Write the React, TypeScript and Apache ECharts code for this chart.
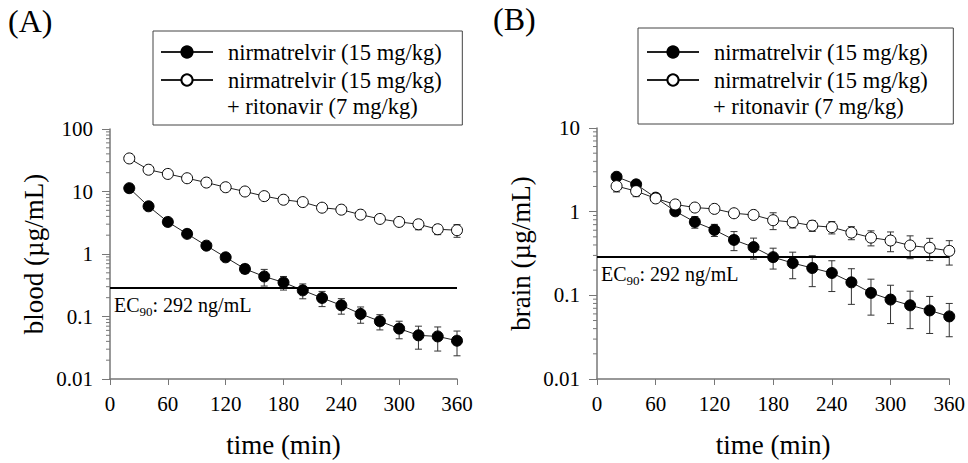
import React, { useEffect, useRef } from "react";
import * as echarts from "echarts";

const FONT = "Liberation Serif, Times New Roman, serif";

const TIME = [20, 40, 60, 80, 100, 120, 140, 160, 180, 200, 220, 240, 260, 280, 300, 320, 340, 360];

// Panel A: blood (µg/mL)
const A_N_MEAN = [11.3, 5.8, 3.26, 2.1, 1.36, 0.885, 0.578, 0.437, 0.351, 0.262, 0.198, 0.151, 0.11, 0.084, 0.064, 0.05, 0.048, 0.041];
const A_N_SD = [1.0, 0.5, 0.3, 0.2, 0.15, 0.12, 0.09, 0.13, 0.086, 0.07, 0.054, 0.042, 0.032, 0.023, 0.02, 0.02, 0.02, 0.0175];
const A_NR_MEAN = [33.8, 22.3, 19.1, 16.3, 13.9, 11.7, 10.0, 8.43, 7.38, 6.77, 5.51, 5.12, 4.26, 3.64, 3.26, 2.99, 2.49, 2.4];
const A_NR_SD = [3, 2, 1.5, 1.3, 1.1, 1.0, 0.8, 0.7, 0.6, 0.6, 0.5, 0.5, 0.45, 0.4, 0.45, 0.55, 0.45, 0.55];

// Panel B: brain (µg/mL)
const B_N_MEAN = [2.61, 2.12, 1.47, 1.01, 0.754, 0.605, 0.46, 0.377, 0.286, 0.243, 0.212, 0.185, 0.143, 0.107, 0.089, 0.076, 0.066, 0.056];
const B_N_SD = [0.15, 0.12, 0.1, 0.1, 0.12, 0.1, 0.118, 0.106, 0.08, 0.085, 0.085, 0.074, 0.065, 0.049, 0.043, 0.036, 0.031, 0.024];
const B_NR_MEAN = [2.02, 1.76, 1.44, 1.22, 1.12, 1.08, 0.957, 0.914, 0.79, 0.748, 0.681, 0.652, 0.562, 0.49, 0.452, 0.394, 0.37, 0.34];
const B_NR_SD = [0.3, 0.25, 0.1, 0.08, 0.08, 0.08, 0.08, 0.1, 0.18, 0.11, 0.1, 0.11, 0.1, 0.1, 0.12, 0.12, 0.11, 0.11];

const EC90 = 0.292; // µg/mL (292 ng/mL)
const X_TICKS = { min: 0, max: 360, interval: 60 };
const Y_RANGE_A = { min: 0.01, max: 100 };
const Y_RANGE_B = { min: 0.01, max: 10 };
const DECADES_A = [0.01, 0.1, 1, 10];
const DECADES_B = [0.01, 0.1, 1];
const MINOR_MULT = [2, 3, 4, 5, 6, 7, 8, 9];

const NAME_N = "nirmatrelvir (15 mg/kg)";
const NAME_NR = "nirmatrelvir (15 mg/kg) ";
const NAME_NR_LINE2 = "+ ritonavir (7 mg/kg)";

const AXIS_COLOR = "#777";
const LEGEND_FONT = 22.5;

function minorValues(decades: number[]) {
  const out: number[][] = [];
  decades.forEach((d) => MINOR_MULT.forEach((m) => out.push([0, +(d * m).toPrecision(6)])));
  return out;
}

function errData(mean: number[], sd: number[]) {
  return TIME.map((t, i) => [t, mean[i], sd[i]]);
}

function lineData(mean: number[]) {
  return TIME.map((t, i) => [t, mean[i]]);
}

const errorRender = (params: any, api: any) => {
  const x = api.value(0);
  const m = api.value(1);
  const s = api.value(2);
  const top = api.coord([x, m + s]);
  const bot = api.coord([x, Math.max(m - s, 1e-5)]);
  const hw = 3.5;
  const st = { stroke: "#333", lineWidth: 1 };
  return {
    type: "group",
    children: [
      { type: "line", shape: { x1: top[0], y1: top[1], x2: bot[0], y2: bot[1] }, style: st },
      { type: "line", shape: { x1: top[0] - hw, y1: top[1], x2: top[0] + hw, y2: top[1] }, style: st },
      { type: "line", shape: { x1: bot[0] - hw, y1: bot[1], x2: bot[0] + hw, y2: bot[1] }, style: st },
    ],
  };
};

const minorRender = (params: any, api: any) => {
  const p = api.coord([api.value(0), api.value(1)]);
  return {
    type: "line",
    shape: { x1: p[0] - 4, y1: p[1], x2: p[0], y2: p[1] },
    style: { stroke: AXIS_COLOR, lineWidth: 1 },
  };
};

function xAxis(gridIndex: number) {
  return {
    type: "value",
    gridIndex,
    ...X_TICKS,
    name: "time (min)",
    nameLocation: "middle",
    nameGap: 52,
    nameTextStyle: { fontSize: 27, fontFamily: FONT, color: "#000" },
    axisLine: { show: true, onZero: false, lineStyle: { color: AXIS_COLOR, width: 1.5 } },
    axisTick: { show: true, length: 6, lineStyle: { color: AXIS_COLOR, width: 1 } },
    axisLabel: { fontSize: 21, fontFamily: FONT, color: "#000", margin: 14 },
    splitLine: { show: false },
  };
}

function yAxis(gridIndex: number, name: string, range: { min: number; max: number }) {
  return {
    type: "log",
    logBase: 10,
    gridIndex,
    ...range,
    name,
    nameLocation: "middle",
    nameGap: 63,
    nameTextStyle: { fontSize: 27, fontFamily: FONT, color: "#000" },
    axisLine: { show: true, onZero: false, lineStyle: { color: AXIS_COLOR, width: 1.5 } },
    axisTick: { show: true, length: 8, lineStyle: { color: AXIS_COLOR, width: 1 } },
    axisLabel: {
      fontSize: 21,
      fontFamily: FONT,
      color: "#000",
      margin: 17,
      formatter: (v: number) => String(+(+v).toPrecision(3)),
    },
    splitLine: { show: false },
  };
}

function panelSeries(idx: number, nMean: number[], nSd: number[], nrMean: number[], nrSd: number[], decades: number[]) {
  return [
    {
      type: "custom",
      xAxisIndex: idx,
      yAxisIndex: idx,
      renderItem: minorRender,
      clip: false,
      silent: true,
      encode: { x: 0, y: 1 },
      data: minorValues(decades),
    },
    {
      type: "custom",
      xAxisIndex: idx,
      yAxisIndex: idx,
      renderItem: errorRender,
      clip: false,
      silent: true,
      encode: { x: 0, y: 1 },
      data: errData(nMean, nSd),
    },
    {
      type: "custom",
      xAxisIndex: idx,
      yAxisIndex: idx,
      renderItem: errorRender,
      clip: false,
      silent: true,
      encode: { x: 0, y: 1 },
      data: errData(nrMean, nrSd),
    },
    {
      type: "line",
      name: NAME_N,
      xAxisIndex: idx,
      yAxisIndex: idx,
      data: lineData(nMean),
      symbol: "circle",
      symbolSize: 11,
      clip: false,
      lineStyle: { color: "#222", width: 1 },
      itemStyle: { color: "#000", borderColor: "#000", borderWidth: 1 },
      markLine: {
        silent: true,
        symbol: "none",
        lineStyle: { color: "#000", width: 2, type: "solid" },
        label: {
          show: true,
          position: "insideStartBottom",
          distance: 4,
          formatter: "{a|EC}{b|90}{a|: 292 ng/mL}",
          rich: {
            a: { fontSize: 20, fontFamily: FONT, color: "#000" },
            b: { fontSize: 13, fontFamily: FONT, color: "#000", padding: [14, 0, 0, 0] },
          },
        },
        data: [[{ coord: [X_TICKS.min, EC90] }, { coord: [X_TICKS.max, EC90] }]],
      },
    },
    {
      type: "line",
      name: NAME_NR,
      xAxisIndex: idx,
      yAxisIndex: idx,
      data: lineData(nrMean),
      symbol: "circle",
      symbolSize: 11,
      clip: false,
      lineStyle: { color: "#222", width: 1 },
      itemStyle: { color: "#fff", borderColor: "#000", borderWidth: 1 },
    },
  ];
}

function legend(left: number, top: number, padding: number[]) {
  return {
    left,
    top,
    orient: "vertical",
    itemWidth: 52,
    itemHeight: 14,
    itemGap: 1,
    padding,
    borderColor: "#444",
    borderWidth: 1,
    selectedMode: false,
    textStyle: { fontSize: LEGEND_FONT, fontFamily: FONT, color: "#000", lineHeight: 27, padding: [0, 0, 0, 10] },
    data: [NAME_N, NAME_NR],
  };
}

export default function App() {
  const ref = useRef<HTMLDivElement>(null);
  useEffect(() => {
    if (!ref.current) return;
    const chart = echarts.init(ref.current, null, { renderer: "svg" });
    chart.setOption({
      animation: false,
      backgroundColor: "#fff",
      grid: [
        { left: 110, top: 129, width: 347, height: 250 },
        { left: 597, top: 128, width: 354, height: 252 },
      ],
      xAxis: [xAxis(0), xAxis(1)],
      yAxis: [yAxis(0, "blood (µg/mL)", Y_RANGE_A), yAxis(1, "brain (µg/mL)", Y_RANGE_B)],
      legend: [legend(153, 31, [7.5, 15, 31.5, 7]), legend(638, 28, [10.5, 20, 30.5, 8])],
      graphic: [
        { type: "text", x: 8, y: 5, style: { text: "(A)", fontSize: 32, fontFamily: FONT, fill: "#000" } },
        { type: "text", x: 493, y: 3, style: { text: "(B)", fontSize: 32, fontFamily: FONT, fill: "#000" } },
        {
          type: "text",
          x: 227,
          y: 106,
          style: { text: NAME_NR_LINE2, fontSize: LEGEND_FONT, fontFamily: FONT, fill: "#000", verticalAlign: "middle" },
        },
        {
          type: "text",
          x: 713,
          y: 106,
          style: { text: NAME_NR_LINE2, fontSize: LEGEND_FONT, fontFamily: FONT, fill: "#000", verticalAlign: "middle" },
        },
      ],
      series: [
        ...panelSeries(0, A_N_MEAN, A_N_SD, A_NR_MEAN, A_NR_SD, DECADES_A),
        ...panelSeries(1, B_N_MEAN, B_N_SD, B_NR_MEAN, B_NR_SD, DECADES_B),
      ],
    });
    return () => chart.dispose();
  }, []);
  return <div ref={ref} style={{ position: "fixed", left: 0, top: 0, width: 968, height: 463 }} />;
}
